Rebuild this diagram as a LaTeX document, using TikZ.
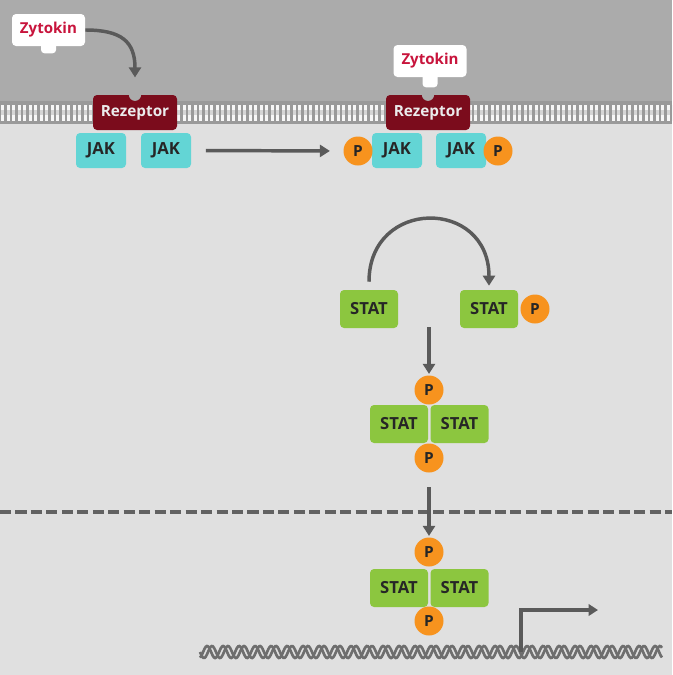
\documentclass[tikz,border=0pt]{standalone}
\usepackage{fontspec}
\setmainfont{Open Sans}
\usetikzlibrary{arrows.meta}
\definecolor{topgray}{HTML}{ABABAB}
\definecolor{cellgray}{HTML}{E0E0E0}
\definecolor{memgray}{HTML}{9A9A9A}
\definecolor{jakcyan}{HTML}{63D5D5}
\definecolor{rezred}{HTML}{7B0C1C}
\definecolor{statgreen}{HTML}{8CC63F}
\definecolor{porange}{HTML}{F7931E}
\definecolor{zytred}{HTML}{C8143C}
\definecolor{arrowgray}{HTML}{5A5A5A}
\definecolor{dnagray}{HTML}{6E6E6E}
\tikzset{
  base/.style={font=\fontsize{12.5}{14}\selectfont\bfseries, inner sep=0pt, rounded corners=3pt},
  jakbox/.style={base, fill=jakcyan, text=black!85, minimum width=37.5pt, minimum height=26.25pt},
  statbox/.style={base, fill=statgreen, text=black!85, minimum width=43.5pt, minimum height=28.5pt},
  rezbox/.style={base, fill=rezred, text=white!92!black, minimum width=63pt, minimum height=26.25pt, font=\fontsize{11.5}{14}\selectfont\bfseries},
  zytbox/.style={base, fill=white, text=zytred, minimum width=54.75pt, minimum height=24pt, font=\fontsize{11.3}{14}\selectfont\bfseries},
  pcirc/.style={circle, fill=porange, text=black!85, minimum size=21.75pt, inner sep=0pt, font=\fontsize{11.5}{13}\selectfont\bfseries},
  flow/.style={draw=arrowgray, line width=2.6pt, -{Triangle[length=7.5pt,width=9pt]}},
}
\begin{document}
\begin{tikzpicture}[x=0.75pt,y=-0.75pt]
\useasboundingbox (0,0) rectangle (672,675);
% backgrounds
\fill[cellgray] (0,0) rectangle (672,675);
\fill[topgray] (0,0) rectangle (672,103);
% membrane
\fill[memgray] (0,101) rectangle (672,124);
\foreach \i in {0,...,122} {
  \fill[white!94!gray] ({\i*5.5+1},104.5) rectangle ({\i*5.5+4},120.5);
}
\fill[memgray, opacity=0.35] (0,110) rectangle (672,115);
% left receptor complex
\node[zytbox] (z1) at (48.5,30) {Zytokin};
\fill[white, rounded corners=2.5pt] ([xshift=-5.6pt,yshift=3pt]z1.south) rectangle ++(15,11);
\node[rezbox] (r1) at (135,112.5) {Rezeptor};
\fill[topgray] (r1.north) circle[radius=4.6pt];
\node[jakbox] (j1) at (101,150.5) {JAK};
\node[jakbox] (j2) at (166,150.5) {JAK};
% right receptor complex
\node[rezbox] (r2) at (428,112.5) {Rezeptor};
\fill[topgray] (r2.north) circle[radius=4.6pt];
\node[zytbox] (z2) at (430,61) {Zytokin};
\fill[white, rounded corners=2.5pt] ([xshift=-5.6pt,yshift=3pt]z2.south) rectangle ++(15,14);
\node[jakbox] (j3) at (397,150.5) {JAK};
\node[jakbox] (j4) at (461,150.5) {JAK};
\node[pcirc] (p1) at (358,151) {P};
\node[pcirc] (p2) at (498,151) {P};
% STAT activation
\node[statbox] (s1) at (369,309) {STAT};
\node[statbox] (s2) at (489,309) {STAT};
\node[pcirc] (p3) at (535,309) {P};
% first dimer
\node[pcirc] (pa) at (429,390) {P};
\node[statbox] (d1) at (399,424) {STAT};
\node[statbox] (d2) at (459.5,424) {STAT};
\node[pcirc] (pb) at (429,458) {P};
% nuclear membrane
\draw[draw=arrowgray!95!white, line width=3pt, dash pattern=on 8.3pt off 3.3pt] (0,512) -- (672,512);
% second dimer
\node[pcirc] (pc) at (429,552) {P};
\node[statbox] (e1) at (399,588) {STAT};
\node[statbox] (e2) at (459.5,588) {STAT};
\node[pcirc] (pd) at (429,621) {P};
% DNA
\draw[dnagray, line width=2pt] plot[domain=200:662, samples=400] (\x, {652+6*sin(22.5*(\x-200))});
\draw[dnagray, line width=2pt] plot[domain=200:662, samples=400] (\x, {652+6*sin(22.5*(\x-200)+110)});
% coordinates
\coordinate (a1) at (429,327);
\coordinate (prom) at (521,652);
\coordinate (promtop) at (521,610);
\coordinate (promend) at (598,610);
% connectors
\draw[flow] (z1.east) .. controls +(36,0) and +(0,-36) .. ([yshift=13pt]r1.north);
\draw[flow, shorten <=11pt, shorten >=10pt] (j2.east) -- (p1.west);
\draw[flow, shorten <=6pt, shorten >=3pt] (s1.north) .. controls +(0,-92) and +(0,-92) .. (s2.north);
\draw[flow, shorten >=1pt] (a1) -- (pa.north);
\draw[flow, shorten <=11pt, shorten >=1pt] (pb.south) -- (pc.north);
\draw[draw=arrowgray, line width=2.4pt, -{Triangle[length=7pt,width=8.5pt]}] (prom) -- (promtop) -- (promend);
\end{tikzpicture}
\end{document}
